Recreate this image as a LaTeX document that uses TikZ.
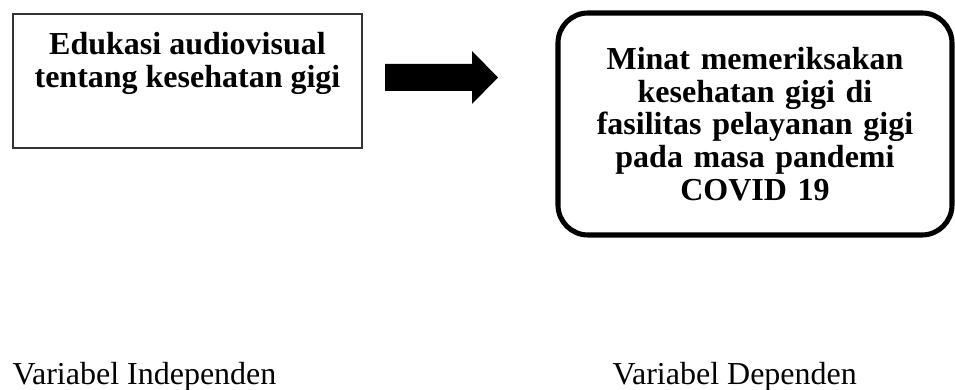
\documentclass[tikz,border=0pt]{standalone}
\usepackage{fontspec}
\setmainfont{Liberation Serif}
\usetikzlibrary{positioning}

\begin{document}
\begin{tikzpicture}[x=0.375pt,y=-0.375pt]

\tikzset{kotak/.style = {shape=rectangle,draw=black!80,line width=0.5pt,minimum width=130.9pt,minimum height=50.25pt,inner sep=0pt}}
\tikzset{kotakbulat/.style = {shape=rectangle,draw,line width=1.9pt,rounded corners=11.25pt,minimum width=147.75pt,minimum height=83.25pt,text width=140pt,align=center,font=\fontsize{12}{12.3}\selectfont\bfseries}}
\tikzset{judul/.style = {align=center,font=\fontsize{12}{12.3}\selectfont\bfseries,inner sep=0pt}}
\tikzset{variabel/.style = {anchor=base west,inner sep=0pt,font=\fontsize{12}{14}\selectfont}}

\useasboundingbox (0,0) rectangle (955,390);
% boxes
\node[kotak] (edukasi) at (187.5,81) {};
\node[judul, below=7pt of edukasi.north] (edukasiteks) {Edukasi audiovisual\\tentang kesehatan gigi};
\node[kotakbulat] (minat) at (755,124) {Minat memeriksakan\\kesehatan gigi di\\fasilitas pelayanan gigi\\pada masa pandemi\\COVID 19};

% arrow
\fill (385,64) -- (472,64) -- (472,51) -- (498,77.5) -- (472,104) -- (472,91) -- (385,91) -- cycle;

% labels
\node[variabel] (indep) at (12,385) {Variabel Independen};
\node[variabel] (dep) at (612,385) {Variabel Dependen};

\end{tikzpicture}
\end{document}
